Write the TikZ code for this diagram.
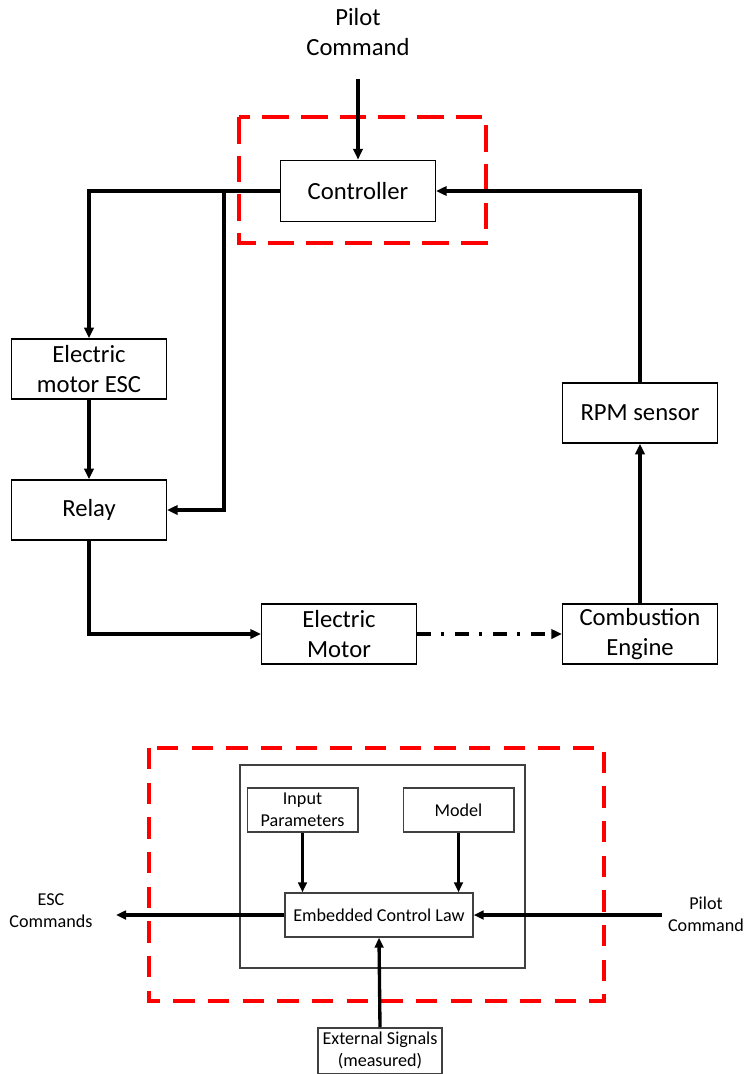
\documentclass[tikz,border=0pt]{standalone}
\usepackage{fontspec}
\setmainfont{Carlito}
\usepackage{tikz}
\usetikzlibrary{positioning,arrows.meta}
\definecolor{framered}{HTML}{FF0000}
\definecolor{boxgray}{HTML}{404040}
\tikzset{
  block/.style={draw, line width=1.1pt, align=center, minimum width=116pt, minimum height=45pt, inner sep=2pt, font=\fontsize{18.5}{22.5}\selectfont},
  smallblock/.style={draw=boxgray, line width=1pt, align=center, inner sep=1.5pt, font=\fontsize{13.6}{16.5}\selectfont},
  arrow/.style={-{Triangle[length=8pt,width=7pt]}, line width=3pt},
  thinarrow/.style={-{Triangle[length=7.5pt,width=6.5pt]}, line width=2.5pt},
  frame/.style={draw=framered, line width=3pt, dash pattern=on 20pt off 9pt},
  lab/.style={align=center, font=\fontsize{18.5}{22.5}\selectfont},
  smalllab/.style={align=center, font=\fontsize{13.6}{16.5}\selectfont}
}

\begin{document}
\begin{tikzpicture}[x=0.75pt, y=-0.75pt]
  \useasboundingbox (0,0) rectangle (743,1074);

  % loop with the controller
  \node[lab] (pilot) at (358,32) {Pilot\\Command};
  \node[block, minimum height=46pt] (ctrl) at (358,191) {Controller};
  \node[block] (esc) at (89,369) {Electric\\motor ESC};
  \node[block] (relay) at (89,510) {Relay};
  \node[block] (emotor) at (339,634) {Electric\\Motor};
  \node[block] (engine) at (640,634) {Combustion\\Engine};
  \node[block] (rpm) at (640,413) {RPM sensor};
  \draw[frame] (239,117) rectangle (486,243);

  \coordinate (pilotin) at (358,79);
  \coordinate (tap) at (224,191);
  \draw[arrow] (pilotin) -- (ctrl.north);
  \draw[arrow] (ctrl.west) -| (esc.north);
  \draw[arrow] (tap) |- (relay.east);
  \draw[arrow] (esc) -- (relay);
  \draw[arrow] (relay.south) |- (emotor.west);
  \draw[arrow, dash pattern=on 10.5pt off 7.5pt on 2.5pt off 8pt] (emotor.east) -- (engine.west);
  \draw[arrow] (engine) -- (rpm);
  \draw[arrow] (rpm.north) |- (ctrl.east);

  % embedded controller
  \draw[frame, dash pattern=on 16pt off 10pt] (149,748) rectangle (604,1001);
  \draw[boxgray, line width=1pt] (240,765) rectangle (525,968);
  \node[smallblock, minimum width=83pt, minimum height=33pt] (inp) at (302.5,810) {Input\\Parameters};
  \node[smallblock, minimum width=83pt, minimum height=33pt] (model) at (458.5,810) {Model};
  \node[smallblock, minimum width=141pt, minimum height=33pt] (ecl) at (379,915) {Embedded Control Law};
  \node[smallblock, minimum width=93pt, minimum height=34pt] (ext) at (380,1050.5) {External Signals\\(measured)};
  \node[smalllab] (esccmd) at (51,911) {ESC\\Commands};
  \node[smalllab] (pilot2) at (706,914) {Pilot\\Command};

  \coordinate (escout) at (116,915);
  \coordinate (pilotin2) at (662,915);
  \draw[thinarrow] (inp.south) -- (inp.south |- ecl.north);
  \draw[thinarrow] (model.south) -- (model.south |- ecl.north);
  \draw[thinarrow] (ecl.west) -- (escout);
  \draw[thinarrow] (pilotin2) -- (ecl.east);
  \draw[thinarrow] (ext.north) -- (ecl.south);
\end{tikzpicture}
\end{document}
